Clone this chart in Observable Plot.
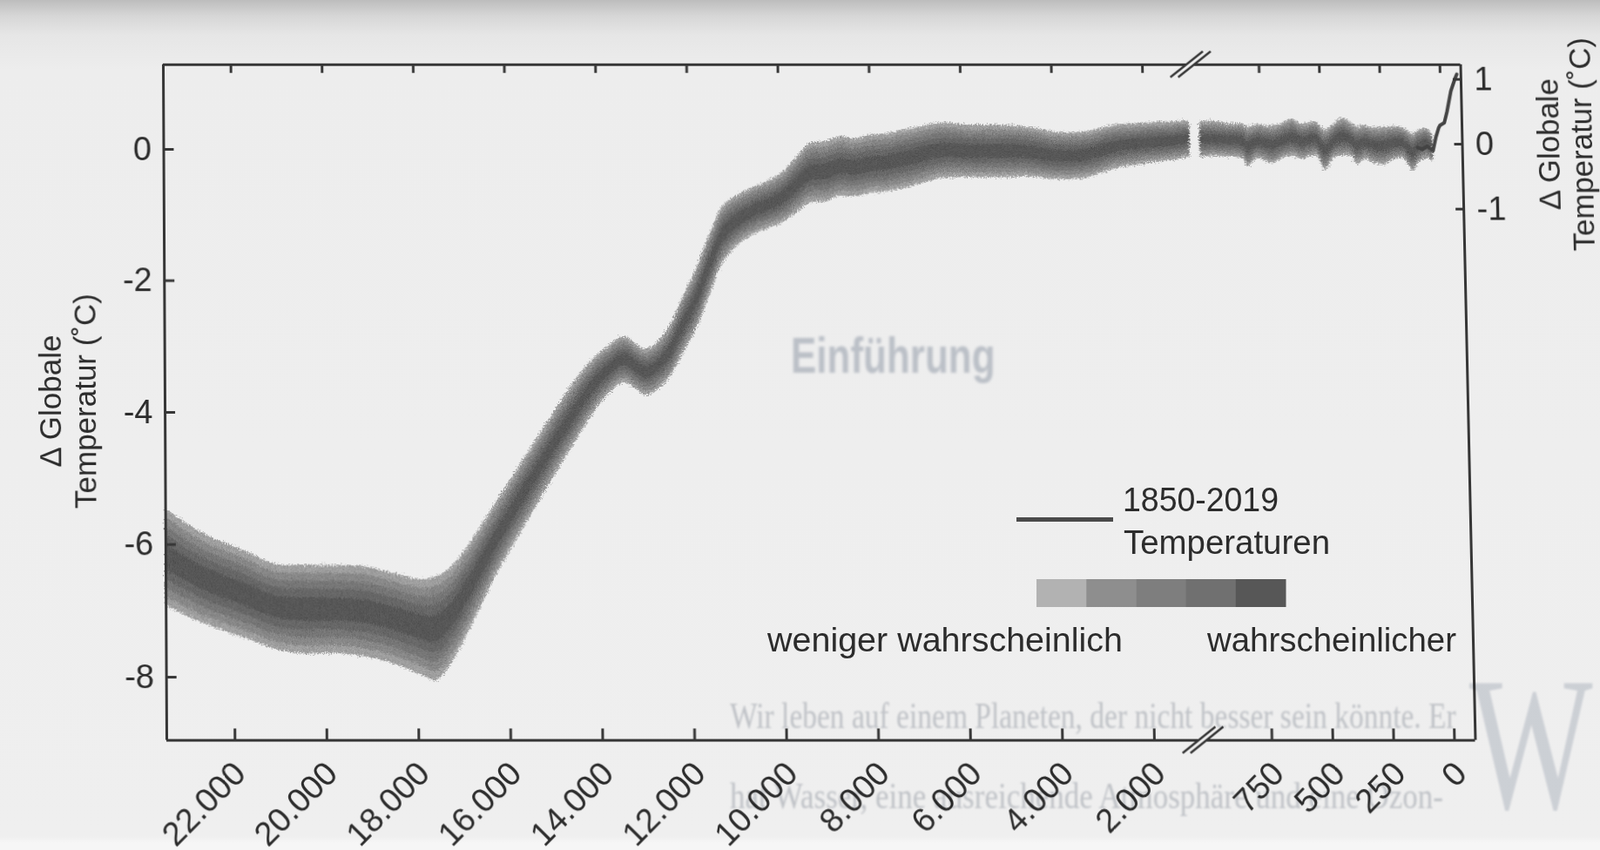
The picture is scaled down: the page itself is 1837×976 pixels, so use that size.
<!DOCTYPE html>
<html>
<head>
<meta charset="utf-8">
<script src="https://cdn.jsdelivr.net/npm/d3@7"></script>
<script src="https://cdn.jsdelivr.net/npm/@observablehq/plot@0.6"></script>
<style>
html, body { margin: 0; padding: 0; }
body {
  width: 1837px; height: 976px; overflow: hidden; position: relative;
  background: linear-gradient(#bdbdbd 0px, #d6d6d6 18px, #e6e6e6 40px, #ededed 80px, #efefef 960px, #f6f6f6 968px);
  font-family: "Liberation Sans", Arial, Helvetica, sans-serif;
}
.layer { position: absolute; left: 0; top: 0; width: 1837px; height: 976px; }
.layer > svg { position: absolute; top: 0; }
/* the photographed page is slightly sheared / wider at the bottom */
#wrap { transform-origin: 937px 462px; transform: skewX(0.775deg) perspective(2000px) rotateX(1.28deg); }
/* show-through print of the book page */
#ghostLayer { mix-blend-mode: multiply; pointer-events: none; }
</style>
</head>
<body>
<div id="wrap" class="layer"></div>
<div id="legendLayer" class="layer"></div>
<div id="ghostLayer" class="layer"></div>
<script>
// ---------------- data ----------------
// Left panel: years before present, centre of the temperature band, outer half-width
const yearsL = [23483, 22700, 21750, 21100, 20470, 19840, 19190, 18560, 17920, 17600, 17270, 16970, 16640, 16320, 15460, 14540, 14060, 13770, 13450, 12950, 12490, 12180, 11860, 11530, 11230, 10900, 10570, 10270, 9940, 9620, 9310, 8990, 8660, 8350, 8030, 7700, 7070, 6440, 5790, 5160, 4530, 3880, 3240, 2610, 1960, 1330, 1000];
const tempL  = [-6.19, -6.50, -6.76, -6.94, -6.98, -6.98, -7.01, -7.11, -7.25, -7.27, -7.07, -6.76, -6.37, -5.97, -5.00, -4.00, -3.55, -3.35, -3.20, -3.39, -3.13, -2.72, -2.30, -1.73, -1.28, -1.07, -0.94, -0.85, -0.74, -0.54, -0.36, -0.34, -0.26, -0.28, -0.23, -0.21, -0.12, -0.02, -0.03, -0.03, -0.04, -0.10, -0.08, 0.04, 0.09, 0.13, 0.16];
const sigL   = [0.73, 0.68, 0.66, 0.64, 0.67, 0.66, 0.68, 0.68, 0.72, 0.78, 0.72, 0.66, 0.60, 0.55, 0.50, 0.46, 0.40, 0.36, 0.35, 0.35, 0.38, 0.42, 0.45, 0.45, 0.42, 0.38, 0.36, 0.36, 0.38, 0.42, 0.45, 0.46, 0.45, 0.44, 0.44, 0.44, 0.44, 0.42, 0.40, 0.40, 0.38, 0.36, 0.35, 0.33, 0.31, 0.29, 0.28];

// Right panel (last 1000 years)
const yearsR = [1000, 944, 883, 822, 804, 762, 701, 653, 617, 580, 520, 483, 447, 411, 374, 350, 314, 290, 241, 193, 156, 120, 96, 60, 36];
const tempR  = [0.07, 0.08, 0.06, 0.04, -0.04, 0.04, -0.01, 0.06, 0.10, 0.04, 0.08, -0.09, 0.04, 0.11, 0.07, -0.02, 0.03, -0.01, -0.03, 0.02, 0.01, -0.13, -0.04, 0.01, -0.07];
const sigR   = [0.28, 0.27, 0.26, 0.27, 0.31, 0.26, 0.29, 0.27, 0.29, 0.27, 0.26, 0.31, 0.26, 0.29, 0.26, 0.29, 0.26, 0.27, 0.29, 0.25, 0.24, 0.29, 0.25, 0.23, 0.21];

// 1850-2019 instrumental temperatures (years before 1950)
const yearsI = [100, 80, 60, 36, 23, 11, 5, -13, -25, -43, -62, -69];
const tempI  = [-0.05, -0.08, -0.03, -0.10, 0.11, 0.25, 0.29, 0.33, 0.50, 0.82, 1.02, 1.08];

// Axes
const xDomL = [23483, 935];
const xDomR = [1032, -86];
const yDomL = [-8.95, 1.294];
const yDomR = [-9.12, 1.227];
const xTicksL = [22000, 20000, 18000, 16000, 14000, 12000, 10000, 8000, 6000, 4000, 2000];
const xTicksR = [750, 500, 250, 0];
const yTicksL = [-8, -6, -4, -2, 0];
const yTicksR = [-1, 0, 1];
const yTitle = "Δ Globale\nTemperatur (˚C)";

// Probability levels (fraction of half-width) and their greys
const levels = [1, 0.82, 0.64, 0.46, 0.26];
const bandColors = ["#ababab", "#939393", "#808080", "#6f6f6f", "#5f5f5f"];
const barColors = ["#b2b2b2", "#8e8e8e", "#7e7e7e", "#707070", "#575757"];

const legendLine = "1850-2019\nTemperaturen";
const legendLow = "weniger wahrscheinlich";
const legendHigh = "wahrscheinlicher";

// show-through page text
const ghostHeading = "Einführung";
const ghostLines = ["Wir leben auf einem Planeten, der nicht besser sein könnte. Er", "hat Wasser, eine ausreichende Atmosphäre und eine Ozon-"];
const ghostInitial = "W";

// ---------------- drawing ----------------
const W = 1837, H = 976, TOP = 72, BOTTOM = 848, LEFT = 189, BREAK = 1374, RIGHT = 1685;
const FRAME = "#363636", TEXT = "#2c2c2c";
const font = `"Liberation Sans", Arial, Helvetica, sans-serif`;
const fmtDE = d => d3.format(",")(d).replace(/,/g, ".");

const leftData = yearsL.map((yr, i) => ({yr, t: tempL[i], s: sigL[i]}));
const rightData = yearsR.map((yr, i) => ({yr, t: tempR[i], s: sigR[i]}));
const instr = yearsI.map((yr, i) => ({yr, t: tempI[i]}));

function bands(data) {
  return levels.map((f, k) => Plot.areaY(data, {
    x: "yr", y1: d => d.t - f * d.s, y2: d => d.t + f * d.s,
    fill: bandColors[k], curve: "catmull-rom"
  }));
}

const baseStyle = {background: "transparent", fontFamily: font, fontSize: "38px", color: TEXT, overflow: "visible"};
const frameH = BOTTOM - TOP;
const leftFrameW = BREAK - LEFT;

const left = Plot.plot({
  width: BREAK, height: H,
  marginLeft: LEFT, marginRight: 0, marginTop: TOP, marginBottom: H - BOTTOM,
  style: baseStyle,
  x: {domain: xDomL, axis: null},
  y: {domain: yDomL, axis: "left", ticks: yTicksL, tickSize: 0, tickPadding: 14, tickFormat: d => String(d), label: null},
  marks: [
    ...bands(leftData),
    Plot.ruleY(yDomL, {stroke: FRAME, strokeWidth: 3}),
    Plot.ruleX([xDomL[0]], {stroke: FRAME, strokeWidth: 3}),
    Plot.tickY(yTicksL, {y: d => d, stroke: FRAME, strokeWidth: 3, insetRight: leftFrameW - 12}),
    Plot.tickX(xTicksL, {x: d => d, stroke: FRAME, strokeWidth: 3, insetTop: frameH - 13}),
    Plot.tickX(xTicksL, {x: d => d, stroke: FRAME, strokeWidth: 3, insetBottom: frameH - 10}),
    Plot.text(xTicksL, {x: d => d, text: d => fmtDE(d), frameAnchor: "bottom", rotate: -45, textAnchor: "end", dx: 14, dy: 40, fill: TEXT}),
    Plot.text([yTitle], {text: d => d, frameAnchor: "left", textAnchor: "middle", lineAnchor: "middle", rotate: -90, dx: -112, lineHeight: 1.14, fontSize: 35, fill: TEXT})
  ]
});

const RW = W - BREAK, rightMarginR = W - RIGHT;
const rightFrameW = RW - rightMarginR;
const right = Plot.plot({
  width: RW, height: H,
  marginLeft: 0, marginRight: rightMarginR, marginTop: TOP, marginBottom: H - BOTTOM,
  style: baseStyle,
  x: {domain: xDomR, axis: null},
  y: {domain: yDomR, axis: "right", ticks: yTicksR, tickSize: 0, tickPadding: 15, tickFormat: d => String(d), label: null},
  marks: [
    ...bands(rightData),
    Plot.line(instr, {x: "yr", y: "t", stroke: "#444444", strokeWidth: 4, curve: "linear"}),
    Plot.ruleY(yDomR, {stroke: FRAME, strokeWidth: 3}),
    Plot.ruleX([xDomR[1]], {stroke: FRAME, strokeWidth: 3}),
    Plot.tickY(yTicksR, {y: d => d, stroke: FRAME, strokeWidth: 3, insetLeft: rightFrameW - 9}),
    Plot.tickX(xTicksR, {x: d => d, stroke: FRAME, strokeWidth: 3, insetTop: frameH - 13}),
    Plot.tickX(xTicksR, {x: d => d, stroke: FRAME, strokeWidth: 3, insetBottom: frameH - 10}),
    Plot.text(xTicksR, {x: d => d, text: d => fmtDE(d), frameAnchor: "bottom", rotate: -45, textAnchor: "end", dx: 15, dy: 40, fill: TEXT}),
    Plot.text([0], {y: d => d, text: () => yTitle, frameAnchor: "right", textAnchor: "middle", lineAnchor: "middle", rotate: -90, dx: 118, lineHeight: 1.1, fontSize: 35, fill: TEXT})
  ]
});

// grainy, rough edges on the probability bands
function roughen(svg, id) {
  const ns = "http://www.w3.org/2000/svg";
  const defs = document.createElementNS(ns, "defs");
  defs.innerHTML = `<filter id="${id}" x="-3%" y="-10%" width="106%" height="120%">
    <feTurbulence type="fractalNoise" baseFrequency="0.7" numOctaves="2" seed="5" result="n"/>
    <feDisplacementMap in="SourceGraphic" in2="n" scale="9" xChannelSelector="R" yChannelSelector="G" result="d"/>
    <feTurbulence type="fractalNoise" baseFrequency="1.4" numOctaves="1" seed="11" result="g"/>
    <feColorMatrix in="g" type="matrix" values="0 0 0 0 0  0 0 0 0 0  0 0 0 0 0  0.9 0 0 0 -0.3" result="ga"/>
    <feComposite in="ga" in2="d" operator="in" result="gd"/>
    <feMerge><feMergeNode in="d"/><feMergeNode in="gd"/></feMerge>
  </filter>`;
  svg.insertBefore(defs, svg.firstChild);
  svg.querySelectorAll('g[aria-label="area"]').forEach(g => g.setAttribute("filter", `url(#${id})`));
}
roughen(left, "roughL");
roughen(right, "roughR");

const ns = "http://www.w3.org/2000/svg";
const wrap = document.getElementById("wrap");

left.style.left = "0px";
right.style.left = BREAK + "px";
wrap.appendChild(left);
wrap.appendChild(right);

// axis-break marks (inside the sheared layer, placed through the scales)
const xL = left.scale("x"), yL = left.scale("y");
const bx = xL.apply(xDomL[1]);
const byTop = yL.apply(yDomL[1]), byBot = yL.apply(yDomL[0]);
const bg = "#efefef";
function breakMark(cx, cy) {
  const hx = 19, hy = 15, o = 4.5;
  return `<polygon points="${cx - o - hx},${cy + hy} ${cx - o + hx},${cy - hy} ${cx + o + hx},${cy - hy} ${cx + o - hx},${cy + hy}" fill="${bg}"/>
    <line x1="${cx - o - hx}" y1="${cy + hy}" x2="${cx - o + hx}" y2="${cy - hy}" stroke="${FRAME}" stroke-width="2.5"/>
    <line x1="${cx + o - hx}" y1="${cy + hy}" x2="${cx + o + hx}" y2="${cy - hy}" stroke="${FRAME}" stroke-width="2.5"/>`;
}
const brk = document.createElementNS(ns, "svg");
brk.setAttribute("width", W); brk.setAttribute("height", H);
brk.style.left = "0px";
brk.innerHTML = breakMark(bx, byTop) + breakMark(bx, byBot);
wrap.appendChild(brk);

// legend
const [l1, l2] = legendLine.split("\n");
const barX = 1190, barW = 286, segW = barW / barColors.length;
const bar = barColors.map((c, i) => `<rect x="${barX + i * segW}" y="665" width="${segW + 0.5}" height="32" fill="${c}"/>`).join("");
const leg = document.createElementNS(ns, "svg");
leg.setAttribute("width", W); leg.setAttribute("height", H);
leg.style.left = "0px";
leg.innerHTML = `
  <g font-family='${font}' font-size="38" fill="${TEXT}">
    <rect x="1167" y="594" width="111" height="5" fill="#4a4a4a"/>
    <text x="1289" y="587" textLength="179" lengthAdjust="spacingAndGlyphs">${l1}</text>
    <text x="1290" y="636" textLength="237" lengthAdjust="spacingAndGlyphs">${l2}</text>
    ${bar}
    <text x="881" y="748" textLength="408" lengthAdjust="spacingAndGlyphs">${legendLow}</text>
    <text x="1386" y="748" textLength="286" lengthAdjust="spacingAndGlyphs">${legendHigh}</text>
  </g>`;
document.getElementById("legendLayer").appendChild(leg);

// faint show-through print of the book page (multiplied over everything)
const ghost = document.createElementNS(ns, "svg");
ghost.setAttribute("width", W); ghost.setAttribute("height", H);
ghost.style.left = "0px";
ghost.innerHTML = `
  <g style="filter: blur(1.5px)">
    <text transform="translate(908,428) scale(1,1.3)" font-family='"Liberation Sans", Arial' font-weight="bold" font-size="44" fill="#c9ced6">${ghostHeading}</text>
  </g>
  <g style="filter: blur(0.8px)" font-family='"Liberation Serif", "DejaVu Serif", serif' fill="#cdd0d5">
    <text transform="translate(838,836) scale(1,1.24)" font-size="33.5">${ghostLines[0]}</text>
    <text transform="translate(838,928) scale(1,1.2)" font-size="35">${ghostLines[1]}</text>
    <text transform="translate(1687,928) scale(1,1.45)" font-size="150" fill="#dadee4">${ghostInitial}</text>
  </g>`;
document.getElementById("ghostLayer").appendChild(ghost);
</script>
</body>
</html>
